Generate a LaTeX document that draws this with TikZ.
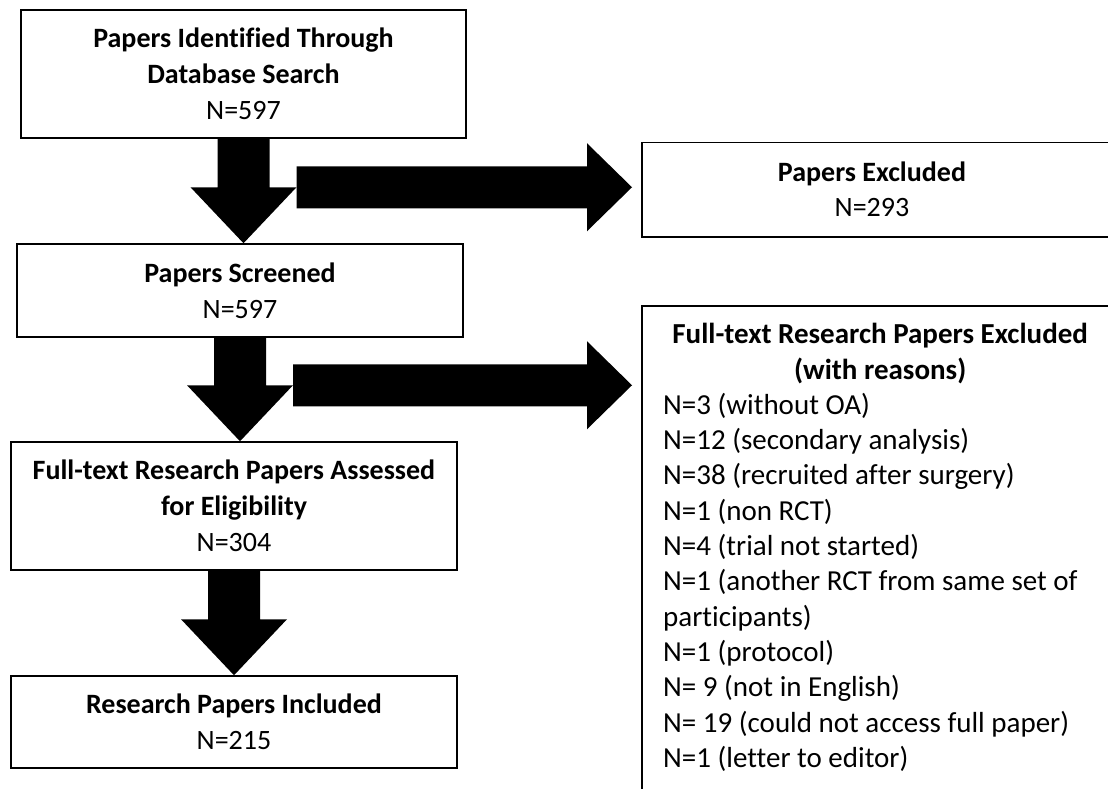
\documentclass[tikz,border=0pt]{standalone}
\usepackage{fontspec}
\setmainfont{Carlito}[Ligatures=CommonOff]
\usetikzlibrary{calc}
\tikzset{
  box/.style={draw, line width=1.5pt, inner sep=0pt, align=flush center, font=\fontsize{28}{35.8}\selectfont},
  frame/.style={draw, line width=1.5pt, inner sep=0pt},
  txt/.style={inner sep=0pt, font=\fontsize{28}{35.3}\selectfont},
  listtxt/.style={inner sep=0pt, font=\fontsize{29}{35.3}\selectfont},
}
\newcommand\flowdown[3]{\fill let \p1=(#1.south), \p2=(#2.north) in
  (\x1-26pt,\y1) -- (\x1+26pt,\y1) -- (\x1+26pt,\y2+56pt) -- (\x1+53pt,\y2+56pt) coordinate (#3)
  -- (\x1,\y2) -- (\x1-53pt,\y2+56pt) -- (\x1-26pt,\y2+56pt) -- cycle;}
\newcommand\flowright[2]{\fill let \p1=(#1), \p2=(#2.west) in
  (\x1,\y1+21pt) -- (\x2-54pt,\y1+21pt) -- (\x2-54pt,\y1+44pt) -- (\x2-9pt,\y1)
  -- (\x2-54pt,\y1-44pt) -- (\x2-54pt,\y1-21pt) -- (\x1,\y1-21pt) -- cycle;}
\begin{document}
\begin{tikzpicture}[x=1pt,y=-1pt]
\useasboundingbox (0,0) rectangle (1108,789);
\fill[white] (0,0) rectangle (1108,789);
\clip (0,0) rectangle (1108,789);

\node[box, minimum width=445pt, minimum height=128pt] (b1) at (243.5,74)
  {\textbf{Papers Identified Through}\\\textbf{Database Search}\\N=597};
\node[box, minimum width=446pt, minimum height=93pt] (b2) at (240,290.5)
  {\textbf{Papers Screened}\\N=597};
\node[box, minimum width=446pt, minimum height=128pt] (b3) at (234,506)
  {\textbf{Full-text Research Papers Assessed}\\\textbf{for Eligibility}\\N=304};
\node[box, minimum width=446pt, minimum height=92pt] (b4) at (234,722)
  {\textbf{Research Papers Included}\\N=215};

\node[frame, anchor=north west, minimum width=500pt, minimum height=94pt] (ex1) at (641,142) {};
\node[txt, align=flush center] (ex1t) at (872,189) {\textbf{Papers Excluded}\\N=293};

\node[frame, anchor=north west, minimum width=500pt, minimum height=520pt] (ex2) at (641,305) {};
\node[listtxt, anchor=base west, text width=434pt, align=flush left] (ex2t) at (663,343.7)
  {\makebox[\linewidth]{\textbf{Full-text Research Papers Excluded}}\\
   \makebox[\linewidth]{\textbf{(with reasons)}}\\
   N=3 (without OA)\\
   N=12 (secondary analysis)\\
   N=38 (recruited after surgery)\\
   N=1 (non RCT)\\
   N=4 (trial not started)\\
   N=1 (another RCT from same set of\\
   participants)\\
   N=1 (protocol)\\
   N= 9 (not in English)\\
   N= 19 (could not access full paper)\\
   N=1 (letter to editor)};

\flowdown{b1}{b2}{h1}
\flowdown{b2}{b3}{h2}
\flowdown{b3}{b4}{h3}
\flowright{h1}{ex1}
\flowright{h2}{ex2}
\end{tikzpicture}
\end{document}
